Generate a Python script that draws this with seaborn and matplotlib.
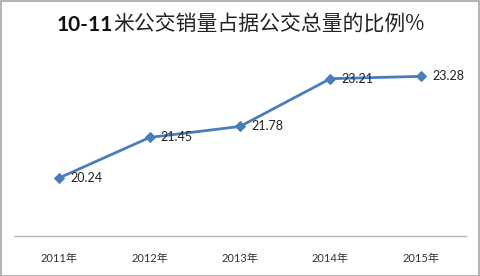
import matplotlib
matplotlib.use("Agg")
import matplotlib.pyplot as plt
import seaborn as sns
import pandas as pd
from matplotlib.patches import Rectangle
from matplotlib.text import Annotation

years = ["2011年", "2012年", "2013年", "2014年", "2015年"]
values = [20.24, 21.45, 21.78, 23.21, 23.28]
title_bold = "10-11"
title_rest = "米公交销量占据公交总量的比例%"

sns.set_theme(style="white")
plt.rcParams['font.family'] = ['Lato', 'Noto Sans CJK SC', 'DejaVu Sans']

df = pd.DataFrame({"year": years, "value": values})

fig = plt.figure(figsize=(4.8, 2.76), dpi=100)
ax = fig.add_axes([14/480, 40/276, 452/480, 167/276])

color = "#4a7ebb"
sns.lineplot(data=df, x="year", y="value", ax=ax, color=color, linewidth=2.0,
             marker="D", markersize=5.5, markeredgecolor=color, sort=False)

ax.set_xlim(-0.5, 4.5)
ax.set_ylim(18.5, 23.5)
ax.set_xlabel("")
ax.set_ylabel("")
ax.set_yticks([])
for s in ["top", "left", "right"]:
    ax.spines[s].set_visible(False)
ax.spines["bottom"].set_color("#b3b3b3")
ax.spines["bottom"].set_linewidth(1.0)
ax.tick_params(axis="x", length=0, pad=12, labelsize=8, colors="#333333")
ax.set_facecolor("white")

for i, v in enumerate(values):
    ax.annotate(f"{v:.2f}", xy=(i, v), xytext=(8, 0), textcoords="offset points",
                ha="left", va="center", fontsize=9, color="#222222")

t1 = fig.text(57/480, 1 - 25/276, title_bold, fontsize=15, fontweight="bold",
              ha="left", va="center", color="#111111")
a = Annotation(title_rest, xy=(1, 0), xycoords=t1, xytext=(0, 0), textcoords="offset points",
               ha="left", va="bottom", fontsize=15, color="#222222",
               family=['Noto Sans CJK SC', 'DejaVu Sans'])
fig.add_artist(a)

fig.patches.append(Rectangle((0.5/480, 0.5/276), 478.5/480, 274.5/276, transform=fig.transFigure,
                             fill=False, edgecolor="#a6a6a6", linewidth=1.2, figure=fig))

fig.savefig("out.png", dpi=100, facecolor="white")
